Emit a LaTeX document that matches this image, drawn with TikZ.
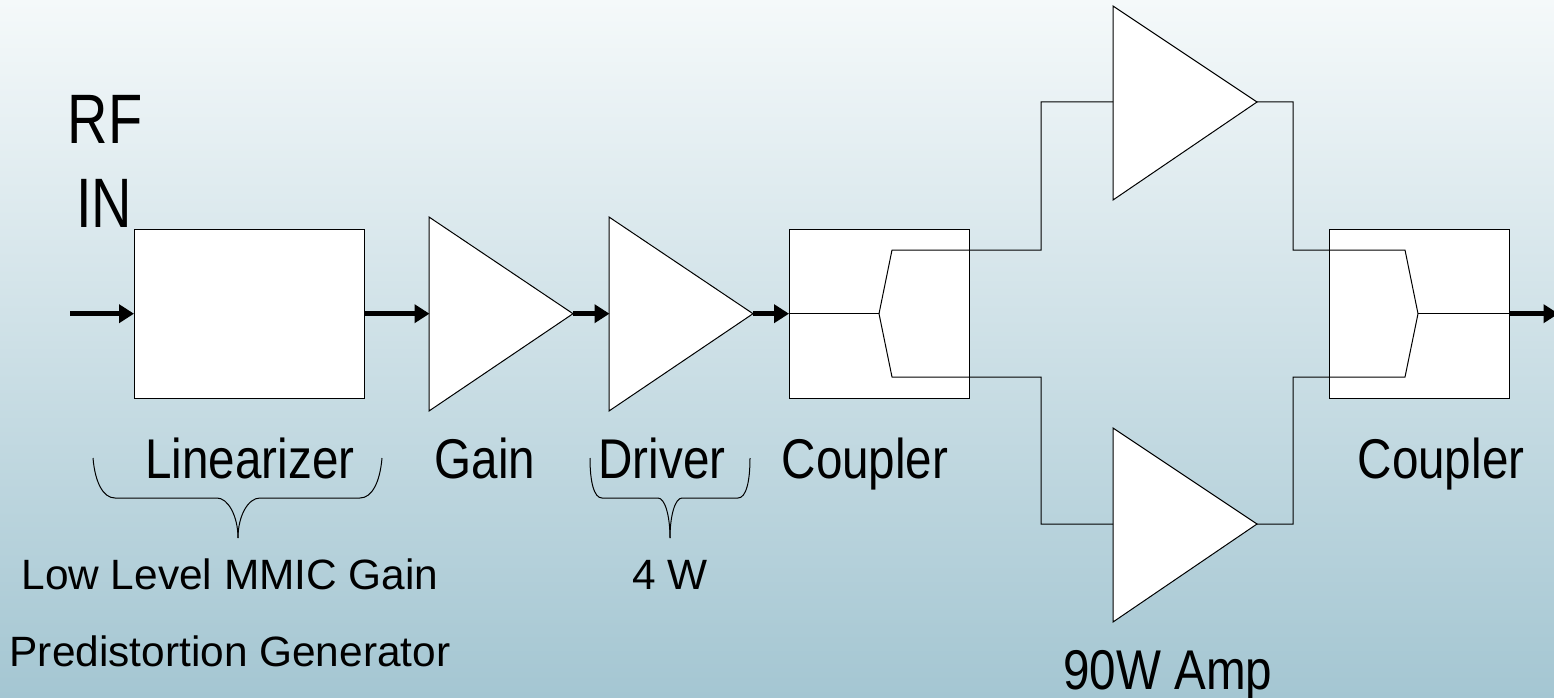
\documentclass[tikz,border=0pt]{standalone}
\usepackage{fontspec}
\setmainfont{Liberation Sans}
\usetikzlibrary{arrows.meta}
\tikzset{
  x=1pt,y=-1pt,
  thin line/.style={draw=black,line width=1pt,line join=miter},
  blockbox/.style={thin line,fill=white},
  fat/.style={draw=black,line width=5pt,-{Triangle[length=15pt,width=18pt]},shorten >=-0.5pt},
  biglabel/.style={font=\fontsize{56}{56}\selectfont,xscale=0.85,inner sep=0pt,anchor=base},
  smalllabel/.style={font=\fontsize{42.4}{43}\selectfont,inner sep=0pt,anchor=base},
  rflabel/.style={font=\fontsize{70}{70}\selectfont,xscale=0.8,inner sep=0pt,anchor=base},
  boxnode/.style={blockbox,minimum height=169pt,inner sep=0pt,anchor=center}
}
\begin{document}
\begin{tikzpicture}
\useasboundingbox (0,0) rectangle (1554,698);
\clip (0,0) rectangle (1554,698);
\shade[top color={rgb,255:red,245;green,249;blue,250},bottom color={rgb,255:red,164;green,198;blue,210}] (0,0) rectangle (1554,698);

% boxes
\node[boxnode,minimum width=230pt] (lin) at (249,313.7) {};
\node[boxnode,minimum width=180pt] (c1) at (879,313.7) {};
\node[boxnode,minimum width=180pt] (c2) at (1419,313.7) {};

% triangles
\coordinate (gaintip) at (573,313.7);
\coordinate (gainin) at (429,313.7);
\coordinate (drvtip) at (753,313.7);
\coordinate (drvin) at (609,313.7);
\coordinate (atip) at (1257,102);
\coordinate (ain) at (1113,102);
\coordinate (btip) at (1257,524);
\coordinate (bin) at (1113,524);
\draw[blockbox] (429,217) -- (gaintip) -- (429,411) -- cycle;
\draw[blockbox] (609,217) -- (drvtip) -- (609,411) -- cycle;
\draw[blockbox] (1113,6) -- (atip) -- (1113,200) -- cycle;
\draw[blockbox] (1113,428) -- (btip) -- (1113,622) -- cycle;

% coupler internals and wiring
\coordinate (c1fork) at (879,313.7);
\coordinate (c1w) at (c1.west);
\coordinate (c2e) at (c2.east);
\coordinate (c2fork) at (1418,313.7);
\draw[thin line] (c1w) -- (c1fork);
\draw[thin line] (c1fork) -- (892,250) -- (1041,250) -- (1041,102) -- (ain);
\draw[thin line] (c1fork) -- (892,377) -- (1041,377) -- (1041,524) -- (bin);
\draw[thin line] (atip) -- (1293,102) -- (1293,250) -- (1405,250) -- (c2fork);
\draw[thin line] (btip) -- (1293,524) -- (1293,377) -- (1405,377) -- (c2fork);
\draw[thin line] (c2fork) -- (c2e);

% fat arrows
\coordinate (rfin) at (70,313.7);
\coordinate (rfout) at (1558,313.7);
\draw[fat] (rfin) -- (lin.west);
\draw[fat] (lin.east) -- (gainin);
\draw[fat] (gaintip) -- (drvin);
\draw[fat] (drvtip) -- (c1.west);
\draw[fat] (c2.east) -- (rfout);

% braces
\draw[thin line] (93,458) .. controls (95,482) and (103,498) .. (115,498) -- (217,498) .. controls (228,498) and (238,516) .. (238,538);
\draw[thin line] (382,458) .. controls (380,482) and (372,498) .. (360,498) -- (260,498) .. controls (248,498) and (238,516) .. (238,538);
\draw[thin line] (590,458) .. controls (590,482) and (594,498) .. (602,498) -- (658,498) .. controls (665,498) and (670,516) .. (670,538);
\draw[thin line] (750,458) .. controls (750,482) and (746,498) .. (738,498) -- (682,498) .. controls (675,498) and (670,516) .. (670,538);

% labels
\node[rflabel] (rf) at (105,143) {RF};
\node[rflabel] (in) at (104,227) {IN};
\node[biglabel] (tlin) at (250,478) {Linearizer};
\node[biglabel] (tgain) at (485,478) {Gain};
\node[biglabel] (tdrv) at (662,478) {Driver};
\node[biglabel] (tc1) at (865,478) {Coupler};
\node[biglabel] (tc2) at (1441,478) {Coupler};
\node[biglabel] (tamp) at (1168,689) {90W Amp};
\node[smalllabel] (tlow) at (230,589) {Low Level MMIC Gain};
\node[smalllabel] (tpre) at (230,666) {Predistortion Generator};
\node[smalllabel] (t4w) at (670,589) {4 W};
\end{tikzpicture}
\end{document}
